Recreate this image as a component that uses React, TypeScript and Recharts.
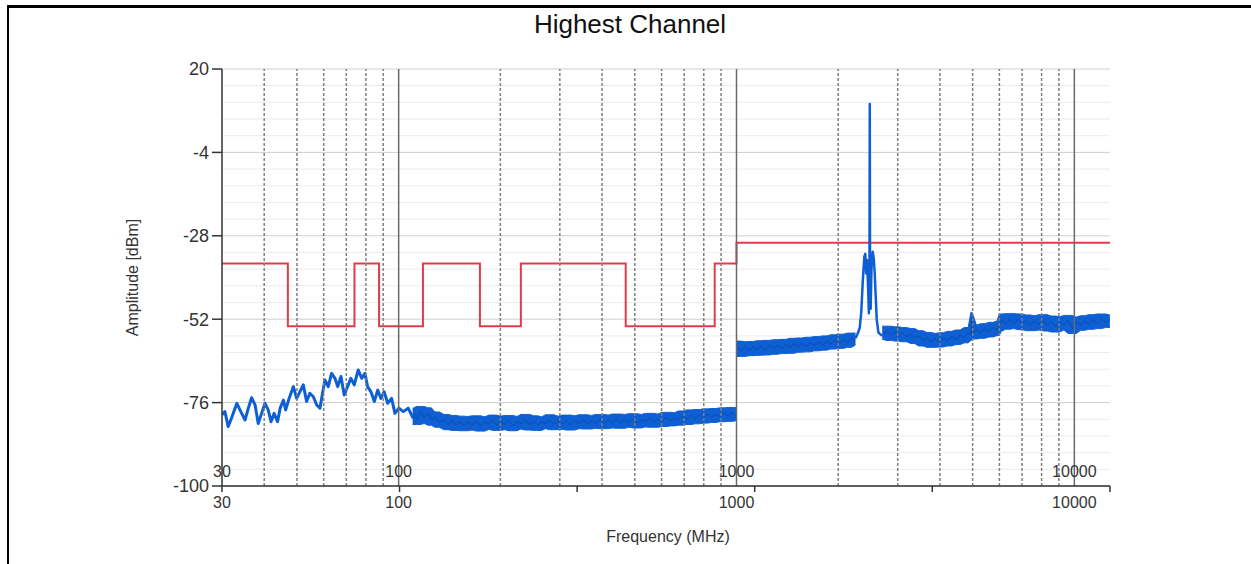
import React from 'react';
import { ComposedChart, Line, Area, XAxis, YAxis, CartesianGrid, ReferenceLine, Label } from 'recharts';

// ---------- axes ----------
const X_DOMAIN: [number, number] = [30, 12750];
const Y_DOMAIN: [number, number] = [-100, 20];
const yTicks = [20, -4, -28, -52, -76, -100];
const yMinorLines = [15.2, 10.4, 5.6, 0.8, -8.8, -13.6, -18.4, -23.2, -32.8, -37.6, -42.4, -47.2, -56.8, -61.6, -66.4, -71.2, -80.8, -85.6, -90.4, -95.2];
const xTickMarks = [30, 100.6, 337.5, 1132, 3797, 12750];
const xTickLabels = [30, 100, 1000, 10000];
const xMinorGrid = [40, 50, 60, 70, 80, 90, 200, 300, 400, 500, 600, 700, 800, 900, 2000, 3000, 4000, 5000, 6000, 7000, 8000, 9000];
const xDecadeGrid = [100, 1000, 10000];

// ---------- limit line (MHz, dBm) ----------
const limitFreq = [30, 47, 74, 87.5, 118, 174, 230, 470, 862, 1000, 12750];
const limitLevel = [-36, -54, -36, -54, -36, -54, -36, -54, -36, -30, -30];

// ---------- measured trace (MHz, dBm) ----------
const traceLow: [number, number][] = [
  [30, -79.5], [30.6, -78.6], [31.3, -82.9], [32.0, -80.5], [33.2, -76.2], [34.1, -78.6], [35.1, -81.0], [35.9, -77.6],
  [36.7, -74.6], [37.6, -76.7], [38.4, -82.0], [39.3, -79.1], [40.2, -76.2], [41.1, -78.1], [41.9, -81.5], [42.8, -79.1],
  [43.8, -81.5], [44.6, -77.6], [45.6, -75.3], [46.3, -78.1], [47.4, -74.8], [48.8, -71.4], [49.9, -74.8], [51.0, -72.9],
  [52.2, -70.9], [53.4, -75.7], [54.6, -73.3], [55.9, -74.3], [57.2, -76.7], [58.5, -77.6], [59.4, -73.8], [60.5, -69.5],
  [61.9, -71.4], [63.3, -67.6], [64.8, -69.0], [66.0, -71.4], [67.5, -68.5], [69.0, -73.8], [70.6, -71.4], [72.2, -69.0],
  [73.9, -70.9], [75.9, -66.6], [77.7, -69.0], [79.5, -67.6], [80.9, -71.4], [82.8, -72.9], [84.7, -75.7], [86.7, -72.4],
  [88.6, -74.8], [90.6, -72.9], [92.8, -76.2], [95.3, -74.8], [97.5, -79.1], [100.2, -77.6], [103.2, -78.6], [106.7, -77.6],
  [110.4, -80.5],
];
const traceMid: [number, number][] = [
  [110, -79.2], [113, -80.8], [116, -78.6], [119, -80.5], [122, -79.0], [125, -81.0], [128, -80.2], [132, -81.6],
  [136, -80.9], [140, -82.3], [144, -81.2], [148, -82.5], [152, -81.4], [156, -82.6], [160, -81.5], [165, -82.4],
  [170, -81.3], [175, -82.7], [180, -81.6], [185, -82.2], [190, -81.1], [195, -82.5], [200, -81.4], [206, -82.3],
  [212, -81.2], [218, -82.6], [224, -81.5], [230, -82.1], [237, -80.9], [244, -82.4], [251, -81.3], [258, -82.5],
  [265, -81.6], [272, -82.0], [280, -81.0], [288, -82.3], [296, -81.4], [305, -82.2], [314, -81.1], [323, -82.4],
  [332, -81.3], [342, -82.0], [352, -81.0], [362, -82.1], [372, -81.2], [383, -81.9], [394, -80.9], [405, -82.0],
  [417, -81.1], [429, -81.8], [441, -80.8], [454, -81.9], [467, -80.9], [480, -81.6], [494, -80.7], [508, -81.8],
  [523, -80.9], [538, -81.5], [553, -80.6], [569, -81.6], [585, -80.8], [602, -81.4], [619, -80.3], [637, -81.2],
  [655, -80.4], [674, -81.0], [693, -79.9], [713, -80.8], [733, -79.6], [754, -80.6], [776, -79.5], [798, -80.4],
  [821, -79.3], [845, -80.2], [869, -79.2], [894, -80.0], [920, -79.0], [946, -79.9], [973, -78.9], [998, -79.7],
];
const traceHighA: [number, number][] = [
  [1002, -59.8], [1030, -61.2], [1060, -60.0], [1090, -61.0], [1120, -59.9], [1150, -60.9], [1180, -59.7], [1215, -60.8],
  [1250, -59.6], [1285, -60.6], [1320, -59.4], [1360, -60.4], [1400, -59.3], [1440, -60.3], [1480, -59.0], [1520, -60.0],
  [1560, -58.9], [1605, -59.9], [1650, -58.7], [1700, -59.6], [1750, -58.5], [1800, -59.4], [1850, -58.3], [1900, -59.1],
  [1955, -58.0], [2010, -58.9], [2070, -57.8], [2130, -58.6], [2190, -57.5], [2250, -57.9],
];
const tracePeak: [number, number][] = [
  [2250, -57.5], [2284, -56.1], [2316, -54.5], [2340, -50.0], [2365, -41.0], [2390, -34.0], [2405, -33.2], [2420, -38.8],
  [2435, -35.0], [2450, -42.0], [2465, -50.3], [2475, -40.0], [2480, 9.9], [2485, -40.0], [2495, -49.0], [2510, -37.0],
  [2530, -32.6], [2548, -34.5], [2565, -38.8], [2583, -45.5], [2601, -52.2], [2630, -55.8], [2660, -56.3], [2700, -56.8],
];
const traceHighB: [number, number][] = [
  [2700, -56.3], [2780, -55.5], [2860, -56.6], [2940, -55.7], [3020, -56.8], [3100, -55.9], [3190, -57.0], [3280, -56.2],
  [3370, -57.5], [3460, -56.8], [3560, -58.2], [3660, -57.3], [3760, -58.6], [3870, -57.6], [3980, -58.5], [4090, -57.4],
  [4210, -58.2], [4330, -57.0], [4460, -57.8], [4590, -56.6], [4720, -57.3], [4850, -55.9], [4940, -56.6], [4960, -51.5],
  [4980, -56.2], [5130, -55.2], [5280, -56.0], [5430, -54.8], [5590, -55.6], [5750, -54.4], [5910, -55.2], [5990, -54.0],
  [6080, -52.0], [6260, -53.4], [6440, -51.9], [6620, -53.2], [6810, -52.0], [7010, -53.5], [7210, -52.3], [7420, -53.8],
  [7630, -52.5], [7850, -53.6], [8080, -52.2], [8310, -53.9], [8550, -52.6], [8800, -54.2], [9050, -52.8], [9310, -53.6],
  [9580, -52.4], [9860, -54.6], [10140, -52.9], [10430, -53.7], [10730, -52.5], [11040, -53.4], [11360, -52.2], [11690, -53.2],
  [12030, -52.0], [12380, -52.9], [12740, -52.3],
];

// extra spread of the noise band beyond the local min/max of the trace (dB)
const BAND_PAD = 1.5;

const toRows = (pairs: [number, number][]) => pairs.map(([f, v]) => ({ f, v }));
const toBandRows = (pairs: [number, number][]) =>
  pairs.map(([f, v], i) => {
    const near = [pairs[i - 1] ? pairs[i - 1][1] : v, v, pairs[i + 1] ? pairs[i + 1][1] : v];
    return { f, v, lo: Math.min(...near) - BAND_PAD, hi: Math.max(...near) + BAND_PAD };
  });
const limitData = limitFreq.map((f, i) => ({ f, v: limitLevel[i] }));
const bandKey = (d: { lo: number; hi: number }) => [d.lo, d.hi];

const BLUE = '#0d5fd3';
const BLUE_DARK = '#0b4cb0';
const RED = '#e03c4c';
const FONT = '"Liberation Sans", Arial, sans-serif';

const allXTicks = Array.from(new Set([...xTickMarks, ...xTickLabels])).sort((a, b) => a - b);

// minor horizontal grid, placed through the y-axis scale when it is available
const minorHorizontalGenerator = (args: any) => {
  try {
    const s = args && args.yAxis && args.yAxis.scale;
    if (typeof s === 'function') return yMinorLines.map((v) => s(v));
    if (s && typeof s.map === 'function') return yMinorLines.map((v) => s.map(v));
    const off = args && args.offset;
    if (off && typeof off.top === 'number' && typeof off.height === 'number') {
      return yMinorLines.map((v) => off.top + ((Y_DOMAIN[1] - v) / (Y_DOMAIN[1] - Y_DOMAIN[0])) * off.height);
    }
  } catch (e) {
    /* ignore */
  }
  return [];
};

const XTick = (props: any) => {
  const { x, y, payload } = props;
  const v = payload.value;
  return (
    <g>
      {xTickMarks.includes(v) && <line x1={x} y1={y} x2={x} y2={y + 6} stroke="#333" strokeWidth={1.5} />}
      {xTickLabels.includes(v) && (
        <>
          <text x={x} y={y - 9} textAnchor="middle" fontSize={16} fill="#333" fontFamily={FONT}>{v}</text>
          <text x={x} y={y + 22} textAnchor="middle" fontSize={16} fill="#333" fontFamily={FONT}>{v}</text>
        </>
      )}
    </g>
  );
};

const YLabel = (props: any) => {
  const vb = props.viewBox || { x: 162, y: 69, width: 60, height: 417 };
  const cx = vb.x - 30;
  const cy = vb.y + vb.height / 2;
  return (
    <text x={cx} y={cy} transform={`rotate(-90 ${cx} ${cy})`} textAnchor="middle" dominantBaseline="central" fontSize={16} fill="#333" fontFamily={FONT}>
      Amplitude [dBm]
    </text>
  );
};

const XLabel = (props: any) => {
  const vb = props.viewBox || { x: 222, y: 486, width: 888, height: 30 };
  return (
    <text x={vb.x + vb.width / 2 + 2} y={vb.y + 56} textAnchor="middle" fontSize={16} fill="#333" fontFamily={FONT}>
      Frequency (MHz)
    </text>
  );
};

const bandProps = {
  dataKey: bandKey as any,
  type: 'linear' as const,
  stroke: BLUE,
  strokeWidth: 1,
  fill: BLUE,
  fillOpacity: 1,
  dot: false,
  activeDot: false,
  isAnimationActive: false,
};
const textureProps = {
  dataKey: 'v',
  type: 'linear' as const,
  stroke: BLUE_DARK,
  strokeWidth: 1,
  dot: false,
  activeDot: false,
  isAnimationActive: false,
};

export default function App() {
  return (
    <div style={{ position: 'absolute', left: 0, top: 0, width: 1251, height: 564, background: '#fff', fontFamily: FONT, overflow: 'hidden' }}>
      <div style={{ position: 'absolute', left: 7, top: 5, width: 1244, height: 3, background: '#000' }} />
      <div style={{ position: 'absolute', left: 7, top: 5, width: 2, height: 559, background: '#000' }} />
      <div style={{ position: 'absolute', left: 0, top: 9, width: 1260, textAlign: 'center', fontSize: 26, lineHeight: '30px', color: '#111' }}>
        Highest Channel
      </div>
      <div style={{ position: 'absolute', left: 0, top: 0 }}>
        <ComposedChart width={1251} height={564} margin={{ top: 69, right: 141, bottom: 48, left: 162 }}>
          <CartesianGrid vertical={false} stroke="#ececec" strokeWidth={1} horizontalCoordinatesGenerator={minorHorizontalGenerator} />
          <CartesianGrid vertical={false} stroke="#cfcfcf" strokeWidth={1} />
          <XAxis
            dataKey="f"
            type="number"
            scale="log"
            domain={X_DOMAIN}
            allowDataOverflow
            ticks={allXTicks}
            interval={0}
            tick={<XTick />}
            tickLine={false}
            tickSize={0}
            tickMargin={0}
            height={30}
            axisLine={{ stroke: '#333', strokeWidth: 1.5 }}
          >
            <Label content={<XLabel />} />
          </XAxis>
          <YAxis
            type="number"
            domain={Y_DOMAIN}
            ticks={yTicks}
            interval={0}
            width={60}
            tickSize={10}
            tickMargin={3}
            tick={{ fontSize: 18, fill: '#333', fontFamily: FONT }}
            tickLine={{ stroke: '#333', strokeWidth: 1.5 }}
            axisLine={{ stroke: '#333', strokeWidth: 1.5 }}
          >
            <Label content={<YLabel />} />
          </YAxis>
          <Line data={limitData} dataKey="v" type="stepAfter" stroke={RED} strokeWidth={2} dot={false} isAnimationActive={false} />
          <Area data={toBandRows(traceMid)} {...bandProps} />
          <Area data={toBandRows(traceHighA)} {...bandProps} />
          <Area data={toBandRows(traceHighB)} {...bandProps} />
          <Line data={toRows(traceMid)} {...textureProps} />
          <Line data={toRows(traceHighA)} {...textureProps} />
          <Line data={toRows(traceHighB)} {...textureProps} />
          <Line data={toRows(tracePeak)} dataKey="v" type="linear" stroke={BLUE} strokeWidth={2.5} strokeLinejoin="round" dot={false} isAnimationActive={false} />
          <Line data={toRows(traceLow)} dataKey="v" type="linear" stroke={BLUE} strokeWidth={3} strokeLinejoin="round" dot={false} isAnimationActive={false} />
          {xMinorGrid.map((f) => (
            <ReferenceLine key={`xm${f}`} x={f} stroke="#7f7f7f" strokeWidth={1.5} strokeDasharray="3 2" />
          ))}
          {xDecadeGrid.map((f) => (
            <ReferenceLine key={`xd${f}`} x={f} stroke="#6a6a6a" strokeWidth={1.5} />
          ))}
        </ComposedChart>
      </div>
    </div>
  );
}
